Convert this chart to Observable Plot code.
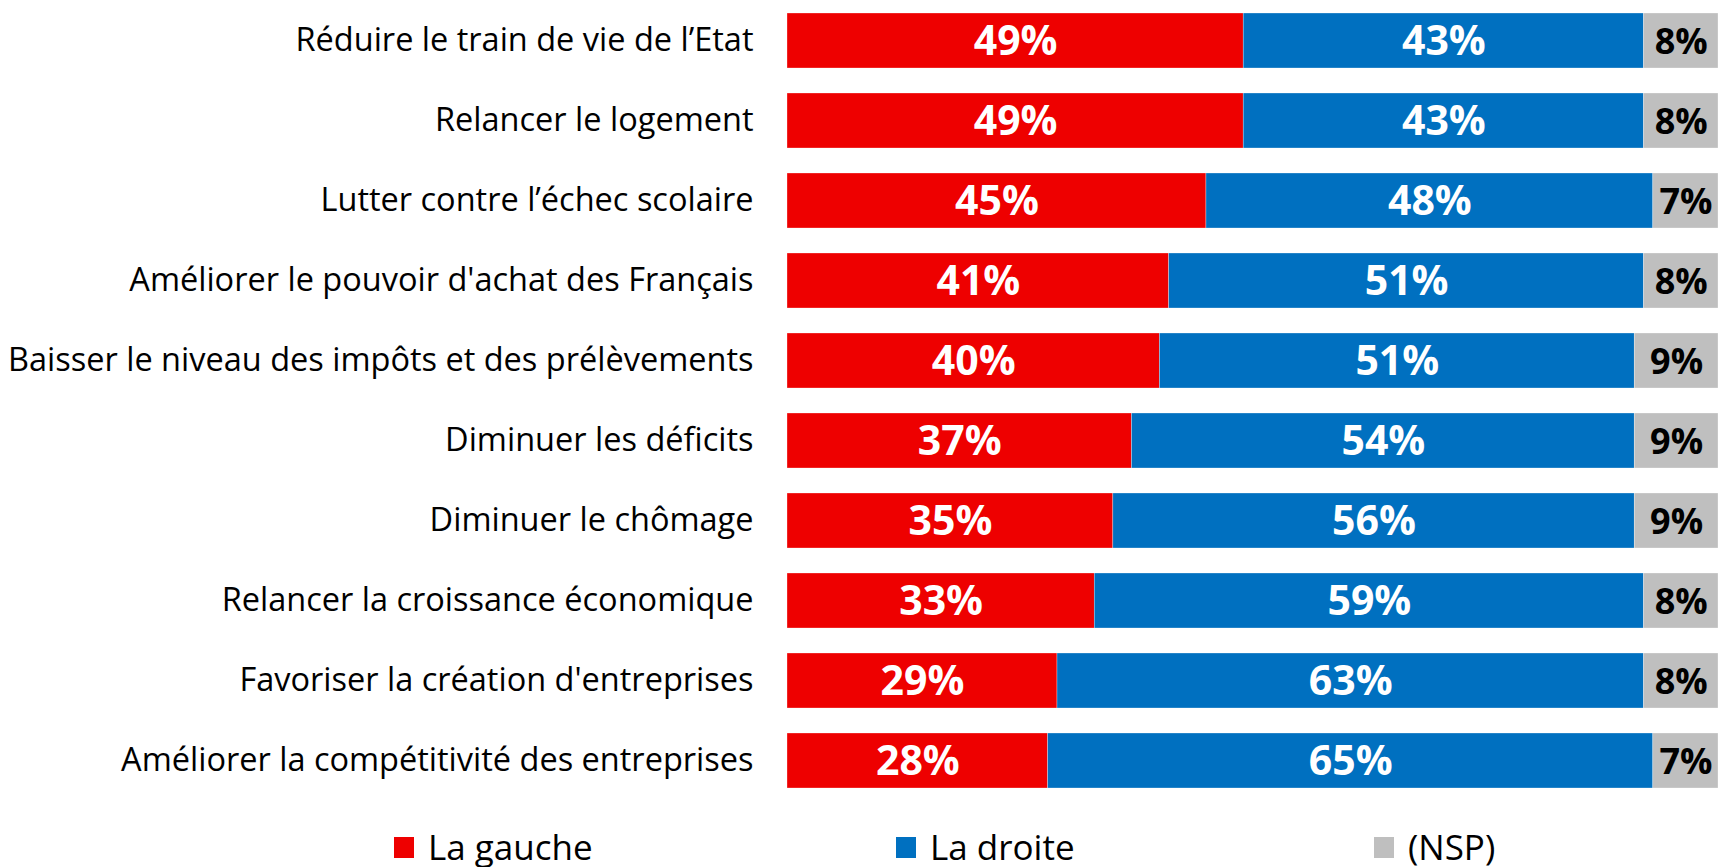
<!DOCTYPE html>
<html>
<head>
<meta charset="utf-8">
<script src="https://cdn.jsdelivr.net/npm/d3@7"></script>
<script src="https://cdn.jsdelivr.net/npm/@observablehq/plot@0.6"></script>
<style>
  html, body { margin: 0; padding: 0; background: #fff; }
  body { width: 1724px; height: 867px; overflow: hidden; font-family: "Open Sans", sans-serif; }
  #chart svg { display: block; }
  #legend { position: relative; height: 67px; }
  .item { position: absolute; top: 30px; display: flex; align-items: center; font-size: 35px; line-height: 34px; height: 34px; color: #000; }
  .sw { width: 20px; height: 21px; margin-right: 14px; }
</style>
</head>
<body>
<div id="chart"></div>
<div id="legend"></div>
<script>
const categories = [
  "Réduire le train de vie de l’Etat",
  "Relancer le logement",
  "Lutter contre l’échec scolaire",
  "Améliorer le pouvoir d'achat des Français",
  "Baisser le niveau des impôts et des prélèvements",
  "Diminuer les déficits",
  "Diminuer le chômage",
  "Relancer la croissance économique",
  "Favoriser la création d'entreprises",
  "Améliorer la compétitivité des entreprises"
];
const gauche = [49, 49, 45, 41, 40, 37, 35, 33, 29, 28];
const droite = [43, 43, 48, 51, 51, 54, 56, 59, 63, 65];
const nsp    = [8, 8, 7, 8, 9, 9, 9, 8, 8, 7];
const seriesNames = ["La gauche", "La droite", "(NSP)"];
const seriesColors = ["#EE0000", "#0070C0", "#BFBFBF"];

const seriesValues = [gauche, droite, nsp];
const data = [];
categories.forEach((c, i) => {
  seriesNames.forEach((s, j) => {
    data.push({category: c, series: s, value: seriesValues[j][i]});
  });
});

const chart = Plot.plot({
  width: 1724,
  height: 800,
  marginLeft: 787,
  marginRight: 6,
  marginTop: 13,
  marginBottom: 12,
  style: {fontFamily: "'Open Sans', sans-serif", background: "#fff"},
  x: {domain: [0, 100], axis: null},
  y: {domain: categories, paddingInner: 0.3125, paddingOuter: 0, label: null},
  color: {domain: seriesNames, range: seriesColors},
  marks: [
    Plot.barX(data, Plot.stackX({x: "value", y: "category", fill: "series", z: "series", order: seriesNames, inset: 0, stroke: "#fff", strokeWidth: 0.5, strokeOpacity: 0.6})),
    Plot.text(data.filter(d => d.series !== "(NSP)"), Plot.stackX({x: "value", y: "category", z: "series", order: seriesNames.slice(0, 2), text: d => d.value + "%", fill: "#fff", fontSize: 41, fontWeight: "bold", dy: 1})),
    Plot.text(data, Plot.stackX({x: "value", y: "category", z: "series", order: seriesNames, text: d => d.series === "(NSP)" ? d.value + "%" : "", fill: "#000", fontSize: 36, fontWeight: "bold", dy: 1})),
    Plot.axisY({tickSize: 0, tickPadding: 34, fontSize: 32.5, fill: "#000", label: null})
  ]
});
document.getElementById("chart").appendChild(chart);

const legendPos = [394, 896, 1374];
const legend = document.getElementById("legend");
seriesNames.forEach((s, i) => {
  const item = document.createElement("div");
  item.className = "item";
  item.style.left = legendPos[i] + "px";
  const sw = document.createElement("div");
  sw.className = "sw";
  sw.style.background = seriesColors[i];
  const t = document.createElement("span");
  t.textContent = s;
  item.appendChild(sw);
  item.appendChild(t);
  legend.appendChild(item);
});
</script>
</body>
</html>
